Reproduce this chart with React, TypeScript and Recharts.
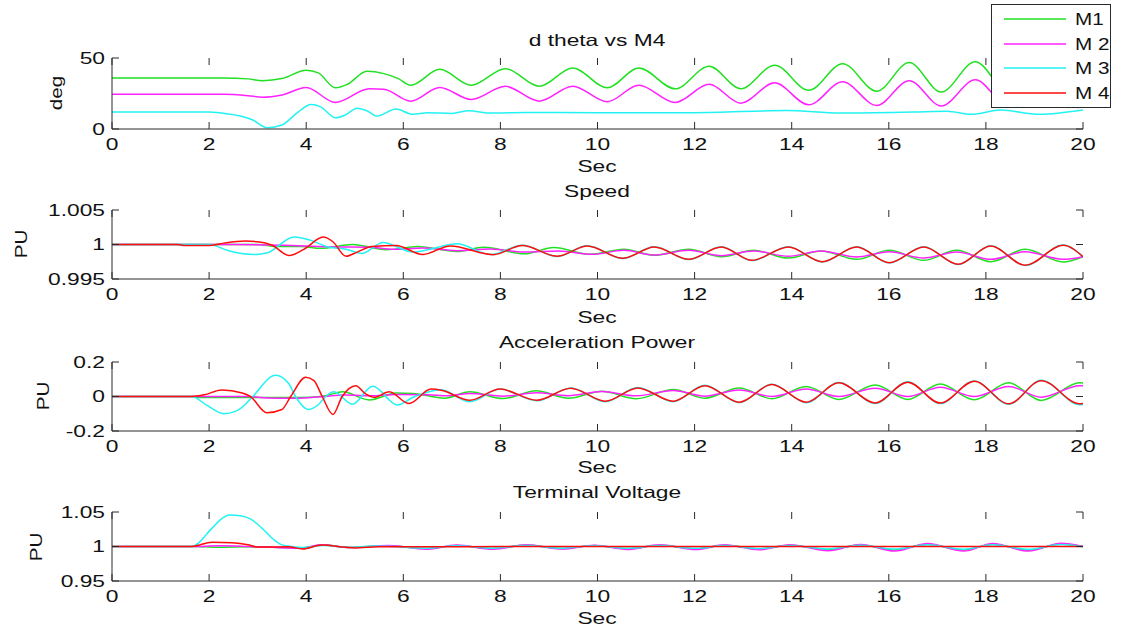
import { LineChart, Line, XAxis, YAxis } from "recharts";

type Pt = [number, number];

// ---- data ----
const timeTicks = [0, 2, 4, 6, 8, 10, 12, 14, 16, 18, 20];
const machineNames = ["M1", "M 2", "M 3", "M 4"];
const machineColors = ["#22e022", "#ff22ff", "#22f2f2", "#ff0d0d"];

// d theta vs M4 (deg)
const thetaM1: Pt[] = [
  [0, 36], [2.3, 36], [2.8, 35.3], [3.1, 34], [3.5, 35.5], [4.0, 41.4], [4.25, 39.5],
  [4.6, 29], [4.85, 31.5], [5.25, 40.6], [5.6, 39], [5.9, 35.5], [6.15, 30.8],
  [6.75, 42], [7.4, 30.8], [8.1, 42.5], [8.8, 30.1], [9.49, 43], [10.2, 29],
  [10.85, 43], [11.6, 28.3], [12.3, 44.2], [12.95, 28.3], [13.65, 44.9], [14.35, 27.3],
  [15.05, 46], [15.75, 26.6], [16.42, 46.8], [17.08, 26], [17.78, 47.4], [18.48, 25.2],
  [19.18, 48], [19.88, 24.6], [20, 25.5],
];
const thetaM2: Pt[] = [
  [0, 24.5], [2.3, 24.5], [2.8, 23.5], [3.1, 22.4], [3.5, 24], [4.0, 29.2], [4.6, 18.7],
  [5.3, 28.3], [5.6, 28], [6.15, 19.6], [6.75, 29.2], [7.4, 20.8], [8.1, 30.1],
  [8.8, 19.6], [9.49, 30.1], [10.2, 19.2], [10.85, 30.8], [11.6, 18.7], [12.3, 31.5],
  [12.95, 18.2], [13.65, 32.5], [14.35, 17], [15.05, 33.2], [15.75, 16.6], [16.42, 34],
  [17.08, 16.2], [17.78, 34.6], [18.48, 15.6], [19.18, 35.2], [19.88, 15.2], [20, 15.6],
];
const thetaM3: Pt[] = [
  [0, 11.9], [2.0, 11.9], [2.4, 10.5], [2.7, 8.6], [2.9, 6.3], [3.2, 0.9], [3.5, 2.8],
  [3.8, 11], [4.1, 17.3], [4.3, 15.6], [4.6, 7.9], [4.8, 9.8], [5.05, 14.7], [5.25, 12.9],
  [5.45, 9.1], [5.85, 14], [6.2, 10.3], [6.5, 11.4], [7.0, 11], [7.35, 12.9], [7.8, 11.2],
  [8.5, 11.7], [10, 11.5], [12, 11.5], [13.9, 13], [15, 11.3], [16.5, 12], [17.2, 12.5],
  [17.7, 10.3], [18.3, 13.3], [19.1, 10.3], [20, 13.3],
];

// Speed (PU)
const speedM1: Pt[] = [
  [0, 1], [3.0, 1], [3.4, 0.9997], [3.9, 0.9997], [4.3, 0.99945], [4.95, 1.0],
  [5.65, 0.99925], [6.3, 0.9997], [7.1, 0.99898], [7.65, 0.9996], [8.5, 0.99865],
  [9.1, 0.99955], [9.85, 0.99857], [10.54, 0.9993], [11.17, 0.99843], [11.88, 0.9993],
  [12.55, 0.99824], [13.22, 0.99915], [13.93, 0.99804], [14.6, 0.99906], [15.34, 0.99785],
  [16.01, 0.99915], [16.72, 0.9977], [17.4, 0.99915], [18.1, 0.99751], [18.81, 0.9993],
  [19.59, 0.99746], [20, 0.99824],
];
const speedM2: Pt[] = [
  [0, 1], [2.5, 1], [3.5, 0.9999], [4.5, 0.99965], [5.3, 0.9996], [5.8, 0.9993],
  [6.4, 0.9995], [7.1, 0.9991], [7.8, 0.99935], [8.5, 0.9989], [9.2, 0.99906],
  [9.9, 0.99857], [10.54, 0.99915], [11.17, 0.99848], [11.88, 0.99915], [12.55, 0.99838],
  [13.22, 0.99906], [13.93, 0.99829], [14.6, 0.99906], [15.34, 0.99819], [16.01, 0.99896],
  [16.72, 0.99804], [17.4, 0.99891], [18.1, 0.99785], [18.81, 0.99896], [19.59, 0.99785],
  [20, 0.99824],
];
const speedM3: Pt[] = [
  [0, 1], [2.0, 1], [2.4, 0.9991], [2.95, 0.99854], [3.2, 0.9988], [3.75, 1.0011],
  [4.1, 1.0006], [4.47, 0.9996], [4.8, 0.99935], [5.15, 0.9987], [5.58, 1.0003],
  [6.2, 0.9989], [6.6, 0.9994], [7.1, 1.0001], [7.8, 0.99855], [8.45, 0.99988],
  [9.17, 0.99827], [9.79, 0.99981], [10.52, 0.99797], [11.17, 0.99967], [11.88, 0.99782],
  [12.55, 0.99967], [13.18, 0.99767], [13.93, 0.99967], [14.63, 0.99748], [15.34, 0.99967],
  [16.01, 0.99734], [16.72, 0.99967], [17.43, 0.9971], [18.1, 0.99981], [18.81, 0.99695],
  [19.59, 0.99991], [20, 0.99824],
];
const speedM4: Pt[] = [
  [0, 1], [1.35, 1], [1.5, 0.99985], [2.0, 0.99985], [2.3, 1.0002], [2.75, 1.0005],
  [3.0, 1.0004], [3.3, 0.9999], [3.65, 0.9984], [3.95, 0.9993], [4.35, 1.00107],
  [4.55, 1.0004], [4.82, 0.9983], [5.05, 0.9989], [5.35, 0.9997], [5.85, 0.99985],
  [6.4, 0.99855], [6.97, 0.9998], [7.85, 0.99852], [8.45, 0.99985], [9.17, 0.9983],
  [9.79, 0.99978], [10.52, 0.998], [11.17, 0.99964], [11.88, 0.99785], [12.55, 0.99964],
  [13.18, 0.9977], [13.93, 0.99964], [14.63, 0.99751], [15.34, 0.99964], [16.01, 0.99737],
  [16.72, 0.99964], [17.43, 0.99713], [18.1, 0.99978], [18.81, 0.99698], [19.59, 0.99988],
  [20, 0.99824],
];

// Acceleration Power (PU)
const accelM1: Pt[] = [
  [0, 0], [1.64, 0], [1.8, -0.006], [3.6, -0.006], [4.1, -0.004], [4.4, 0.005],
  [4.75, 0.027], [5.3, -0.02], [5.85, 0.02], [6.2, 0.018], [6.85, -0.01], [7.37, 0.027],
  [8.05, -0.012], [8.74, 0.033], [9.4, -0.01], [10.09, 0.031], [10.8, -0.013],
  [11.56, 0.04], [12.21, -0.01], [12.92, 0.05], [13.59, -0.013], [14.3, 0.058],
  [14.97, -0.017], [15.72, 0.067], [16.39, -0.017], [17.06, 0.073], [17.76, -0.019],
  [18.47, 0.079], [19.14, -0.023], [19.93, 0.079], [20, 0.078],
];
const accelM2: Pt[] = [
  [0, 0], [2.8, 0], [3.2, -0.008], [3.8, -0.01], [4.3, -0.002], [4.8, 0.008],
  [5.4, 0.004], [5.85, 0.012], [6.5, 0.01], [6.9, 0.004], [7.37, 0.018], [8.05, 0.002],
  [8.74, 0.022], [9.4, 0.005], [10.09, 0.029], [10.8, 0.004], [11.56, 0.035],
  [12.21, 0.002], [12.92, 0.038], [13.59, 0], [14.3, 0.044], [14.97, 0], [15.72, 0.048],
  [16.39, 0], [17.06, 0.054], [17.76, 0], [18.47, 0.058], [19.14, -0.004],
  [19.93, 0.063], [20, 0.062],
];
const accelM3: Pt[] = [
  [0, 0], [1.64, 0], [1.95, -0.05], [2.3, -0.1], [2.55, -0.085], [2.75, -0.045],
  [2.9, 0], [3.37, 0.123], [3.64, 0.075], [3.78, 0], [4.04, -0.075], [4.26, -0.045],
  [4.4, 0], [4.57, 0.027], [4.95, -0.045], [5.37, 0.059], [5.88, -0.049], [6.19, -0.006],
  [6.78, 0.039], [7.37, -0.031], [7.99, 0.043], [8.75, -0.025], [9.45, 0.05],
  [10.16, -0.03], [10.83, 0.052], [11.56, -0.03], [12.21, 0.065], [12.92, -0.036],
  [13.59, 0.071], [14.3, -0.036], [14.97, 0.081], [15.72, -0.04], [16.39, 0.085],
  [17.06, -0.041], [17.76, 0.09], [18.47, -0.045], [19.14, 0.094], [19.93, -0.048],
  [20, -0.046],
];
const accelM4: Pt[] = [
  [0, 0], [1.64, 0], [1.9, 0.01], [2.26, 0.037], [2.68, 0.02], [2.85, 0], [3.19, -0.094],
  [3.5, -0.075], [3.68, 0], [3.99, 0.112], [4.16, 0.092], [4.33, 0], [4.55, -0.104],
  [4.74, 0], [5.02, 0.063], [5.23, 0.014], [5.4, -0.005], [5.71, 0.027], [6.12, -0.041],
  [6.57, 0.043], [6.8, 0.035], [7.37, -0.022], [7.99, 0.043], [8.75, -0.022],
  [9.45, 0.048], [10.16, -0.027], [10.83, 0.05], [11.56, -0.027], [12.21, 0.063],
  [12.92, -0.033], [13.59, 0.069], [14.3, -0.033], [14.97, 0.079], [15.72, -0.037],
  [16.39, 0.083], [17.06, -0.038], [17.76, 0.088], [18.47, -0.042], [19.14, 0.092],
  [19.93, -0.042], [20, -0.04],
];

// Terminal Voltage (PU)
const voltM1: Pt[] = [
  [0, 1], [1.64, 1], [2.2, 0.999], [2.8, 0.9995], [3.3, 0.999], [3.9, 0.998],
  [4.35, 1.002], [4.9, 0.999], [5.7, 1.001], [6.47, 0.997], [7.1, 1.0015], [7.85, 0.997],
  [8.54, 1.002], [9.27, 0.997], [9.94, 1.0015], [10.61, 0.997], [11.28, 1.0018],
  [12.03, 0.9967], [12.62, 1.0018], [13.33, 0.9965], [13.96, 1.0019], [14.75, 0.9957],
  [15.42, 1.0022], [16.12, 0.995], [16.8, 1.0033], [17.54, 0.9948], [18.14, 1.0033],
  [18.88, 0.9948], [19.55, 1.0038], [20, 1.0],
];
const voltM2: Pt[] = [
  [0, 1], [1.64, 1], [2.2, 1.001], [2.8, 1.0], [3.3, 0.9988], [3.9, 0.9976],
  [4.3, 1.0024], [4.9, 0.9985], [5.7, 1.0015], [6.47, 0.9961], [7.1, 1.002],
  [7.85, 0.9961], [8.54, 1.0024], [9.27, 0.9962], [9.94, 1.0019], [10.61, 0.9957],
  [11.28, 1.0024], [12.03, 0.9957], [12.62, 1.0024], [13.33, 0.9952], [13.96, 1.0024],
  [14.75, 0.9938], [15.42, 1.0029], [16.12, 0.9933], [16.8, 1.0043], [17.54, 0.9933],
  [18.14, 1.0043], [18.88, 0.9933], [19.55, 1.0048], [20, 1.0],
];
const voltM3: Pt[] = [
  [0, 1], [1.64, 1], [2.06, 1.0266], [2.23, 1.0386], [2.42, 1.0455], [2.64, 1.0445],
  [2.85, 1.04], [3.09, 1.0266], [3.3, 1.012], [3.5, 1.0024], [3.7, 1.0], [3.95, 0.9985],
  [4.35, 1.0015], [4.9, 0.9985], [5.4, 1.0008], [5.75, 1.0], [6.47, 0.9975],
  [7.1, 1.0012], [7.85, 0.9975], [8.54, 1.0015], [9.2, 0.9975], [9.94, 1.0012],
  [10.61, 0.9973], [11.28, 1.0015], [12.03, 0.9973], [12.62, 1.0015], [13.33, 0.997],
  [13.96, 1.0015], [14.75, 0.9965], [15.42, 1.0018], [16.12, 0.9962], [16.8, 1.0025],
  [17.54, 0.996], [18.14, 1.0025], [18.88, 0.996], [19.55, 1.0028], [20, 0.9995],
];
const voltM4: Pt[] = [
  [0, 1], [1.64, 1], [2.06, 1.0063], [2.47, 1.0053], [2.8, 1.0024], [3.0, 0.9993],
  [3.64, 0.9995], [3.92, 0.9965], [4.33, 1.0022], [4.81, 0.9988], [5.0, 0.998],
  [5.5, 0.9995], [6.5, 0.9995], [8, 1.0], [20, 1.0],
];

const thetaTicks = [0, 50];
const speedTicks = [0.995, 1, 1.005];
const accelTicks = [-0.2, 0, 0.2];
const voltTicks = [0.95, 1, 1.05];

// ---- layout ----
const PAGE_W = 1126;
const PLOT_L = 112;
const PLOT_R = 1083;
const PAD_TOP = 10;
const AXIS_H = 40;
const TICK_LEN = 7;
const FONT = '"Liberation Sans", Arial, Helvetica, sans-serif';
const FS = 16.5;
const SX = 1.38;
const INK = "#111";
const BOX = "#2a2a2a";

const toPts = (a: Pt[]) => a.map(([t, v]) => ({ t, v }));

// x tick: label below plus inward marks on bottom and top borders
const XTick = (p: any) => {
  const { x, y, payload, plotTop, plotBottom } = p;
  return (
    <g>
      <line x1={x} x2={x} y1={plotBottom} y2={plotBottom - TICK_LEN} stroke={BOX} />
      <line x1={x} x2={x} y1={plotTop} y2={plotTop + TICK_LEN} stroke={BOX} />
      <text
        transform={`translate(${x},${y}) scale(${SX},1)`}
        textAnchor="middle"
        dy="0.71em"
        fontSize={FS}
        fontFamily={FONT}
        fill={INK}
      >
        {payload.value}
      </text>
    </g>
  );
};

// y tick: label left plus inward marks on left and right borders
const YTick = (p: any) => {
  const { x, y, payload } = p;
  return (
    <g>
      <line x1={PLOT_L} x2={PLOT_L + TICK_LEN} y1={y} y2={y} stroke={BOX} />
      <line x1={PLOT_R} x2={PLOT_R - TICK_LEN} y1={y} y2={y} stroke={BOX} />
      <text
        transform={`translate(${x},${y}) scale(${SX},1)`}
        textAnchor="end"
        dy="0.355em"
        fontSize={FS}
        fontFamily={FONT}
        fill={INK}
      >
        {payload.value}
      </text>
    </g>
  );
};

const HText = ({ cx, cy, text }: { cx: number; cy: number; text: string }) => (
  <div
    style={{
      position: "absolute",
      left: cx - 200,
      top: cy - 10,
      width: 400,
      height: 20,
      lineHeight: "20px",
      textAlign: "center",
      fontFamily: FONT,
      fontSize: FS,
      color: INK,
      whiteSpace: "nowrap",
      transform: `scaleX(${SX})`,
    }}
  >
    {text}
  </div>
);

const VText = ({ cx, cy, text }: { cx: number; cy: number; text: string }) => (
  <div
    style={{
      position: "absolute",
      left: cx - 40,
      top: cy - 10,
      width: 80,
      height: 20,
      lineHeight: "20px",
      textAlign: "center",
      fontFamily: FONT,
      fontSize: FS,
      color: INK,
      transform: "rotate(-90deg) scaleX(1.25)",
    }}
  >
    {text}
  </div>
);

type PanelProps = {
  top: number;
  bottom: number;
  domain: [number, number];
  yTicks: number[];
  series: Pt[][];
  colors: string[];
};

const Panel = ({ top, bottom, domain, yTicks, series, colors }: PanelProps) => {
  const h = bottom - top + PAD_TOP + AXIS_H;
  const plotTop = PAD_TOP;
  const plotBottom = PAD_TOP + (bottom - top);
  return (
    <div style={{ position: "absolute", left: 0, top: top - PAD_TOP }}>
      <LineChart
        width={PAGE_W}
        height={h}
        margin={{ top: PAD_TOP, right: PAGE_W - PLOT_R, bottom: 0, left: 0 }}
      >
        <XAxis
          xAxisId="b"
          type="number"
          dataKey="t"
          domain={[0, 20]}
          ticks={timeTicks}
          interval={0}
          height={AXIS_H}
          tickLine={false}
          tickSize={0}
          tickMargin={9}
          tick={(p: any) => <XTick {...p} plotTop={plotTop} plotBottom={plotBottom} />}
          stroke={BOX}
          allowDataOverflow
        />
        <XAxis
          xAxisId="t"
          orientation="top"
          type="number"
          dataKey="t"
          domain={[0, 20]}
          height={0}
          tickLine={false}
          tick={false}
          stroke={BOX}
          allowDataOverflow
        />
        <YAxis
          yAxisId="l"
          type="number"
          domain={domain}
          ticks={yTicks}
          interval={0}
          width={PLOT_L}
          tickLine={false}
          tickSize={0}
          tickMargin={7}
          tick={(p: any) => <YTick {...p} />}
          stroke={BOX}
          allowDataOverflow
        />
        <YAxis
          yAxisId="r"
          orientation="right"
          type="number"
          domain={domain}
          width={0}
          tickLine={false}
          tick={false}
          stroke={BOX}
          allowDataOverflow
        />
        {series.map((s, i) => (
          <Line
            key={i}
            xAxisId="b"
            yAxisId="l"
            data={toPts(s)}
            dataKey="v"
            type="monotone"
            stroke={colors[i]}
            strokeWidth={1.5}
            dot={false}
            activeDot={false}
            isAnimationActive={false}
          />
        ))}
      </LineChart>
    </div>
  );
};

const App = () => {
  return (
    <div
      style={{
        position: "absolute",
        left: 0,
        top: 0,
        width: PAGE_W,
        height: 634,
        background: "#fff",
        overflow: "hidden",
      }}
    >
      <Panel
        top={58}
        bottom={129}
        domain={[0, 50]}
        yTicks={thetaTicks}
        series={[thetaM1, thetaM2, thetaM3]}
        colors={machineColors.slice(0, 3)}
      />
      <Panel
        top={210}
        bottom={279}
        domain={[0.995, 1.005]}
        yTicks={speedTicks}
        series={[speedM1, speedM2, speedM3, speedM4]}
        colors={machineColors}
      />
      <Panel
        top={362}
        bottom={431}
        domain={[-0.2, 0.2]}
        yTicks={accelTicks}
        series={[accelM1, accelM2, accelM3, accelM4]}
        colors={machineColors}
      />
      <Panel
        top={512}
        bottom={581}
        domain={[0.95, 1.05]}
        yTicks={voltTicks}
        series={[voltM1, voltM2, voltM3, voltM4]}
        colors={machineColors}
      />

      {/* titles, x labels, y labels */}
      <HText cx={597} cy={40} text="d theta vs M4" />
      <HText cx={597} cy={191} text="Speed" />
      <HText cx={597} cy={342} text="Acceleration Power" />
      <HText cx={597} cy={492} text="Terminal Voltage" />
      <HText cx={597} cy={166} text="Sec" />
      <HText cx={597} cy={317} text="Sec" />
      <HText cx={597} cy={467} text="Sec" />
      <HText cx={597} cy={618} text="Sec" />
      <VText cx={56} cy={93} text="deg" />
      <VText cx={21} cy={244} text="PU" />
      <VText cx={43} cy={396} text="PU" />
      <VText cx={36} cy={547} text="PU" />

      {/* legend */}
      <div
        style={{
          position: "absolute",
          left: 991,
          top: 4,
          width: 120,
          height: 104,
          boxSizing: "border-box",
          border: `1px solid ${BOX}`,
          background: "#fff",
          zIndex: 2,
        }}
      >
        {machineNames.map((name, i) => (
          <div
            key={name}
            style={{ position: "absolute", left: 0, top: 4 + i * 24.5, width: 118, height: 20 }}
          >
            <svg
              width={64}
              height={20}
              style={{ position: "absolute", left: 12, top: 0 }}
            >
              <line x1={0} x2={62} y1={10} y2={10} stroke={machineColors[i]} strokeWidth={1.6} />
            </svg>
            <div
              style={{
                position: "absolute",
                left: 83,
                top: 0,
                height: 20,
                lineHeight: "20px",
                fontFamily: FONT,
                fontSize: FS,
                color: INK,
                whiteSpace: "nowrap",
                transform: `scaleX(1.25)`,
                transformOrigin: "0 50%",
              }}
            >
              {name}
            </div>
          </div>
        ))}
      </div>
    </div>
  );
};

export default App;
